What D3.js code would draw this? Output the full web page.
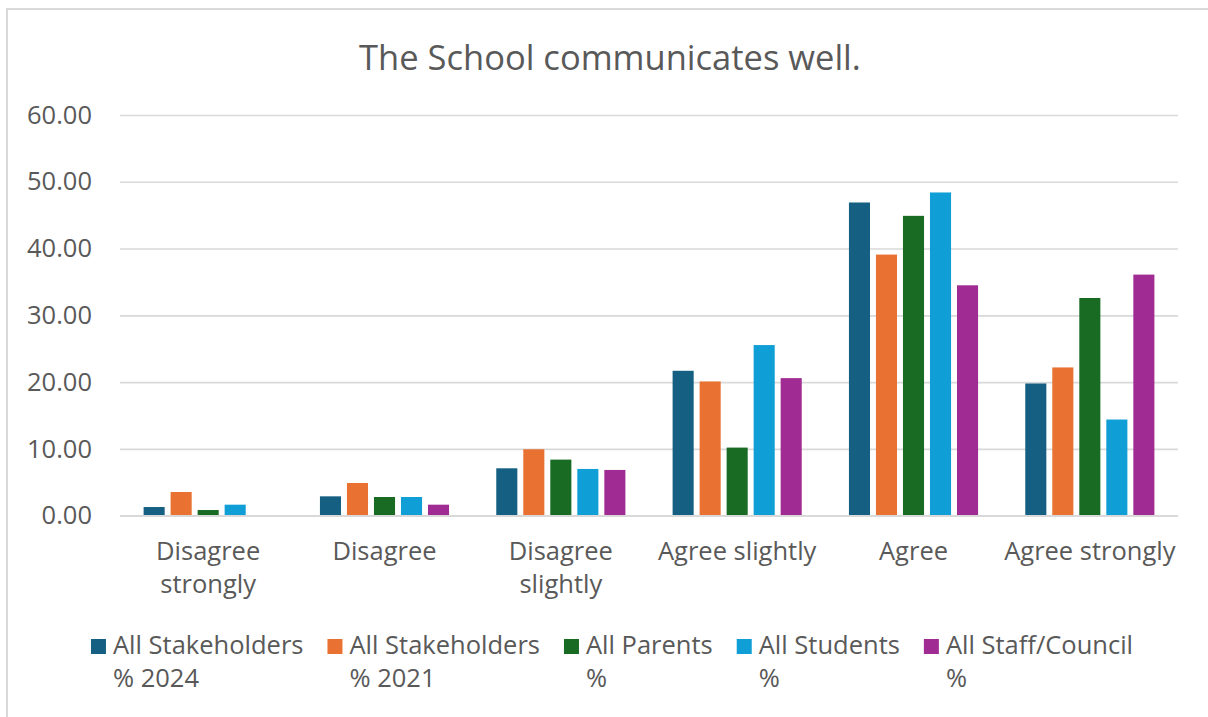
<!DOCTYPE html>
<html>
<head>
<meta charset="utf-8">
<script src="https://cdn.jsdelivr.net/npm/d3@7"></script>
<style>
  html, body { margin: 0; padding: 0; background: #fff; }
  svg { display: block; font-family: "Open Sans", sans-serif; }
</style>
</head>
<body>
<svg id="chart" width="1208" height="717"></svg>
<script>
// Response categories along the x axis
const categories = ["Disagree strongly", "Disagree", "Disagree slightly", "Agree slightly", "Agree", "Agree strongly"];

// Respondent groups (legend entries)
const seriesNames = ["All Stakeholders % 2024", "All Stakeholders % 2021", "All Parents %", "All Students %", "All Staff/Council %"];
const seriesColors = ["#156082", "#E97132", "#196B24", "#0F9ED5", "#A02B93"];

// Percentages for each group, in category order
const stakeholders2024 = [1.3, 2.9, 7.1, 21.7, 46.9, 19.8];
const stakeholders2021 = [3.55, 4.9, 9.95, 20.1, 39.1, 22.2];
const parents = [0.85, 2.8, 8.4, 10.2, 44.9, 32.6];
const students = [1.65, 2.8, 7.0, 25.55, 48.4, 14.4];
const staffCouncil = [0, 1.65, 6.85, 20.6, 34.5, 36.1];

const yTicks = [0, 10, 20, 30, 40, 50, 60];

const seriesValues = [stakeholders2024, stakeholders2021, parents, students, staffCouncil];

const svg = d3.select("#chart");
const W = 1208, H = 717;
const textColor = "#595959";
const gridColor = "#d9d9d9";
const font = "'Open Sans', sans-serif";
const labelSize = "25.5px";

// chart frame
svg.append("rect")
  .attr("x", 7).attr("y", 9)
  .attr("width", W + 10).attr("height", H + 10)
  .attr("fill", "#fff")
  .attr("stroke", gridColor).attr("stroke-width", 2);

// title
svg.append("text")
  .attr("x", 610).attr("y", 70)
  .attr("text-anchor", "middle")
  .attr("fill", textColor)
  .style("font-size", "34.5px")
  .text("The School communicates well.");

const plot = { left: 120, right: 1178, top: 115, bottom: 515.7 };

const y = d3.scaleLinear().domain([0, 60]).range([plot.bottom, plot.top]);

const x0 = d3.scaleBand()
  .domain(categories)
  .range([plot.left, plot.right])
  .paddingInner(0.234)
  .paddingOuter(0.117);

const x1 = d3.scaleBand()
  .domain(d3.range(seriesNames.length))
  .range([0, x0.bandwidth()])
  .paddingInner(0.22)
  .paddingOuter(0.11);

// gridlines
const yAxis = d3.axisLeft(y)
  .tickValues(yTicks)
  .tickSize(-(plot.right - plot.left))
  .tickPadding(28)
  .tickFormat(d3.format(".2f"));

const gy = svg.append("g")
  .attr("transform", `translate(${plot.left},0)`)
  .call(yAxis);
gy.select(".domain").remove();
gy.selectAll(".tick line").attr("stroke", gridColor).attr("stroke-width", 1.6);
gy.selectAll(".tick text")
  .attr("fill", textColor)
  .style("font-size", labelSize)
  .style("font-family", font);

// bars
const groups = svg.append("g").selectAll("g")
  .data(categories)
  .join("g")
  .attr("transform", d => `translate(${x0(d)},0)`);

groups.selectAll("rect")
  .data((c, ci) => seriesValues.map((vals, si) => ({ si, v: vals[ci] })))
  .join("rect")
  .attr("x", d => x1(d.si))
  .attr("width", x1.bandwidth())
  .attr("y", d => y(d.v))
  .attr("height", d => y(0) - y(d.v))
  .attr("fill", d => seriesColors[d.si]);

// baseline
svg.append("line")
  .attr("x1", plot.left).attr("x2", plot.right)
  .attr("y1", y(0)).attr("y2", y(0))
  .attr("stroke", gridColor).attr("stroke-width", 1.6);

// category labels, wrapped to the band width
const xAxis = d3.axisBottom(x0).tickSize(0).tickPadding(0);
const gx = svg.append("g")
  .attr("transform", `translate(0,${plot.bottom})`)
  .call(xAxis);
gx.select(".domain").remove();
gx.selectAll(".tick text")
  .attr("fill", textColor)
  .style("font-size", labelSize)
  .style("font-family", font)
  .each(function(d) {
    const t = d3.select(this);
    const words = d.split(" ");
    t.text(null);
    const lines = [];
    let line = [];
    const probe = t.append("tspan");
    words.forEach(w => {
      line.push(w);
      probe.text(line.join(" "));
      if (probe.node().getComputedTextLength() > 180 && line.length > 1) {
        line.pop();
        lines.push(line.join(" "));
        line = [w];
      }
    });
    lines.push(line.join(" "));
    probe.remove();
    t.attr("y", 0).attr("dy", null);
    lines.forEach((l, i) => {
      t.append("tspan").attr("x", 0).attr("y", 44 + i * 33).text(l);
    });
  });

// legend, two-line entries laid out left to right
const legend = svg.append("g");
const items = legend.selectAll("g")
  .data(seriesNames)
  .join("g");

items.append("rect")
  .attr("x", 0).attr("y", -15)
  .attr("width", 15).attr("height", 15)
  .attr("fill", (d, i) => seriesColors[i]);

items.append("text")
  .attr("fill", textColor)
  .style("font-size", labelSize)
  .each(function(d) {
    const t = d3.select(this);
    const cut = d.indexOf(" %");
    t.append("tspan").attr("x", 22).attr("y", 0).text(d.slice(0, cut));
    t.append("tspan").attr("x", 22).attr("y", 33).text(d.slice(cut + 1));
  });

const gap = 24;
let cursor = 0;
const offsets = [];
items.each(function() {
  const w = d3.select(this).select("text").node().getBBox().width;
  offsets.push(cursor);
  cursor += 22 + w + gap;
});
const totalW = cursor - gap;
const startX = 612 - totalW / 2;
items.attr("transform", (d, i) => `translate(${startX + offsets[i]},654)`);
</script>
</body>
</html>
